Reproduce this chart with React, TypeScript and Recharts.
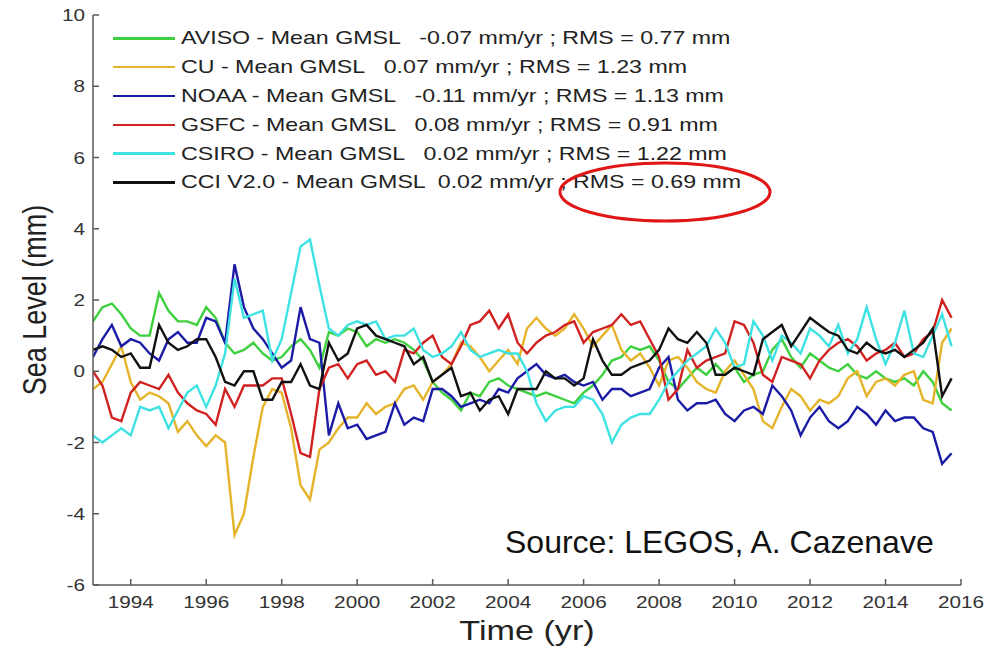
import { LineChart, Line, XAxis, YAxis, Legend } from "recharts";

// time axis (quarterly samples, decimal years)
const years = [
  1993, 1993.25, 1993.5, 1993.75, 1994, 1994.25, 1994.5, 1994.75,
  1995, 1995.25, 1995.5, 1995.75, 1996, 1996.25, 1996.5, 1996.75,
  1997, 1997.25, 1997.5, 1997.75, 1998, 1998.25, 1998.5, 1998.75,
  1999, 1999.25, 1999.5, 1999.75, 2000, 2000.25, 2000.5, 2000.75,
  2001, 2001.25, 2001.5, 2001.75, 2002, 2002.25, 2002.5, 2002.75,
  2003, 2003.25, 2003.5, 2003.75, 2004, 2004.25, 2004.5, 2004.75,
  2005, 2005.25, 2005.5, 2005.75, 2006, 2006.25, 2006.5, 2006.75,
  2007, 2007.25, 2007.5, 2007.75, 2008, 2008.25, 2008.5, 2008.75,
  2009, 2009.25, 2009.5, 2009.75, 2010, 2010.25, 2010.5, 2010.75,
  2011, 2011.25, 2011.5, 2011.75, 2012, 2012.25, 2012.5, 2012.75,
  2013, 2013.25, 2013.5, 2013.75, 2014, 2014.25, 2014.5, 2014.75,
  2015, 2015.25, 2015.5, 2015.75,
];

// sea level anomalies (mm), one value per quarter
const aviso = [
  1.4, 1.8, 1.9, 1.6, 1.2, 1.0, 1.0, 2.2, 1.7, 1.4, 1.4, 1.3, 1.8, 1.5, 0.8, 0.5,
  0.6, 0.8, 0.5, 0.3, 0.4, 0.7, 0.9, 0.6, 0.1, 1.1, 1.0, 1.2, 1.1, 0.7, 0.9, 0.8,
  0.9, 0.8, 0.6, 0.3, -0.3, -0.6, -0.8, -1.1, -0.6, -0.7, -0.3, -0.2, -0.4, -0.5, -0.6, -0.7,
  -0.6, -0.7, -0.8, -0.9, -0.6, -0.4, -0.1, 0.3, 0.4, 0.7, 0.6, 0.7, 0.3, -0.3, -0.5, -0.2,
  0.1, -0.1, 0.2, -0.1, 0.1, -0.3, -0.1, 0.0, 0.6, 0.9, 0.4, 0.1, 0.5, 0.3, 0.1, 0.0,
  0.2, -0.1, -0.2, 0.0, -0.2, -0.3, -0.2, -0.4, 0.0, -0.3, -0.9, -1.1,
];
const cu = [
  -0.5, -0.3, 0.2, 0.7, -0.3, -0.8, -0.6, -0.7, -0.9, -1.7, -1.4, -1.8, -2.1, -1.8, -2.0, -4.6,
  -4.0, -2.4, -1.0, -0.5, -0.6, -1.6, -3.2, -3.6, -2.2, -2.0, -1.6, -1.3, -1.3, -0.9, -1.2, -1.0,
  -0.9, -0.5, -0.4, -0.8, -0.3, -0.1, 0.2, 0.8, 0.7, 0.4, 0.0, 0.3, 0.6, 0.2, 1.2, 1.5,
  1.2, 1.0, 1.2, 1.6, 1.2, 0.7, 1.0, 1.3, 0.6, 0.3, 0.5, 0.1, -0.4, 0.3, 0.4, 0.1,
  -0.3, -0.5, -0.6, 0.0, 0.3, -0.1, -0.5, -1.4, -1.6, -1.0, -0.5, -0.7, -1.1, -0.8, -0.9, -0.7,
  -0.2, 0.0, -0.7, -0.3, -0.2, -0.4, -0.1, 0.0, -0.8, -0.9, 0.8, 1.2,
];
const noaa = [
  0.4, 0.9, 1.3, 0.7, 0.9, 0.8, 0.5, 0.3, 0.9, 1.1, 0.8, 0.8, 1.5, 1.4, 0.8, 3.0,
  1.8, 1.2, 0.9, 0.5, 0.1, 0.3, 1.8, 0.9, 0.8, -1.8, -0.9, -1.6, -1.5, -1.9, -1.8, -1.7,
  -0.9, -1.5, -1.3, -1.4, -0.5, -0.5, -0.7, -1.0, -0.9, -0.8, -0.9, -0.5, -0.6, -0.2, 0.0, 0.2,
  -0.1, -0.2, -0.1, -0.3, -0.4, -0.3, -0.8, -0.5, -0.5, -0.7, -0.6, -0.5, 0.1, 0.4, -0.8, -1.1,
  -0.9, -0.9, -0.8, -1.2, -1.4, -1.1, -1.0, -1.2, -0.4, -0.7, -1.1, -1.8, -1.3, -1.0, -1.4, -1.6,
  -1.4, -1.0, -1.2, -1.5, -1.1, -1.4, -1.3, -1.3, -1.6, -1.7, -2.6, -2.3,
];
const gsfc = [
  0.0, -0.4, -1.3, -1.4, -0.6, -0.3, -0.4, -0.5, -0.1, -0.6, -0.9, -1.1, -1.2, -1.5, -0.5, -1.0,
  -0.4, -0.4, -0.4, -0.2, -0.2, -1.2, -2.3, -2.4, -0.5, 0.1, 0.2, -0.2, 0.2, 0.3, -0.1, 0.0,
  -0.3, 0.6, 0.5, 0.8, 1.0, 0.4, 0.2, 0.7, 1.3, 1.4, 1.7, 1.2, 1.6, 0.8, 0.5, 0.8,
  1.0, 1.1, 1.3, 1.4, 0.8, 1.1, 1.2, 1.3, 1.6, 1.3, 1.4, 0.9, 0.4, -0.8, -0.5, 0.6,
  0.1, 0.3, 0.4, 0.5, 1.4, 1.3, 0.8, -0.1, -0.3, 0.4, 0.3, 0.2, -0.2, 0.3, 0.6, 0.8,
  0.9, 0.7, 0.3, 0.5, 0.6, 0.8, 0.4, 0.5, 0.9, 1.1, 2.0, 1.5,
];
const csiro = [
  -1.8, -2.0, -1.8, -1.6, -1.8, -1.0, -1.1, -1.0, -1.6, -1.1, -0.6, -0.4, -1.0, -0.4, 0.5, 2.6,
  1.5, 1.6, 1.7, 0.3, 0.9, 2.2, 3.5, 3.7, 2.4, 1.2, 1.0, 1.3, 1.4, 1.3, 1.4, 0.9,
  1.0, 1.0, 1.2, 0.6, 0.4, 0.5, 0.7, 1.1, 0.6, 0.4, 0.5, 0.6, 0.5, 0.5, 0.0, -0.9,
  -1.4, -1.1, -1.0, -1.0, -0.7, -0.8, -1.2, -2.0, -1.5, -1.3, -1.2, -1.2, -0.8, -0.3, 0.0, 0.3,
  0.5, 0.7, 1.2, 0.8, 0.1, 0.2, 1.4, 1.0, 0.3, 1.0, 0.8, 0.5, 1.2, 1.0, 0.7, 1.3,
  0.5, 0.9, 1.8, 0.9, 0.2, 0.8, 1.7, 0.5, 0.4, 1.0, 1.6, 0.7,
];
const cci = [
  0.6, 0.7, 0.6, 0.4, 0.5, 0.1, 0.1, 1.3, 0.8, 0.6, 0.7, 0.9, 0.9, 0.4, -0.3, -0.4,
  0.0, 0.0, -0.8, -0.8, -0.3, -0.3, 0.2, -0.4, -0.5, 0.8, 0.3, 0.5, 1.2, 1.3, 1.0, 0.9,
  0.8, 0.7, 0.2, 0.4, -0.3, -0.1, 0.1, -0.7, -0.6, -1.1, -0.8, -0.7, -1.2, -0.5, -0.5, -0.5,
  0.0, -0.2, -0.2, -0.4, -0.2, 0.9, 0.3, -0.1, -0.1, 0.1, 0.2, 0.3, 0.6, 1.2, 0.9, 0.8,
  1.1, 0.8, -0.1, -0.1, 0.1, 0.0, -0.1, 0.9, 1.1, 1.3, 0.7, 1.1, 1.5, 1.3, 1.1, 1.0,
  0.6, 0.5, 0.8, 0.6, 0.5, 0.6, 0.4, 0.6, 0.8, 1.2, -0.7, -0.2,
];

const xTicks = [1994, 1996, 1998, 2000, 2002, 2004, 2006, 2008, 2010, 2012, 2014, 2016];
const yTicks = [-6, -4, -2, 0, 2, 4, 6, 8, 10];

const series = [
  { key: "aviso", name: "AVISO - Mean GMSL   -0.07 mm/yr ; RMS = 0.77 mm", color: "#3fd03f" },
  { key: "cu", name: "CU - Mean GMSL   0.07 mm/yr ; RMS = 1.23 mm", color: "#e6b42a" },
  { key: "noaa", name: "NOAA - Mean GMSL   -0.11 mm/yr ; RMS = 1.13 mm", color: "#1b1ba6" },
  { key: "gsfc", name: "GSFC - Mean GMSL   0.08 mm/yr ; RMS = 0.91 mm", color: "#d12222" },
  { key: "csiro", name: "CSIRO - Mean GMSL   0.02 mm/yr ; RMS = 1.22 mm", color: "#3fe2e2" },
  { key: "cci", name: "CCI V2.0 - Mean GMSL  0.02 mm/yr ; RMS = 0.69 mm", color: "#111111" },
];

const data = years.map((year, i) => ({
  year,
  aviso: aviso[i],
  cu: cu[i],
  noaa: noaa[i],
  gsfc: gsfc[i],
  csiro: csiro[i],
  cci: cci[i],
}));

const FONT = "'Liberation Sans', Arial, Helvetica, sans-serif";
const AXIS = "#5a5a5a";
const STRETCH = 1.22; // the source figure is drawn a little wide

function GmslLegend() {
  return (
    <div style={{ fontFamily: FONT, fontSize: 19, color: "#222" }}>
      {series.map((s) => (
        <div key={s.key} style={{ display: "flex", alignItems: "center", height: 28.8 }}>
          <span style={{ display: "inline-block", width: 62, height: 2.5, background: s.color, marginRight: 6 }} />
          <span
            style={{
              display: "inline-block",
              whiteSpace: "pre",
              transform: `scaleX(${STRETCH})`,
              transformOrigin: "left center",
            }}
          >
            {s.name}
          </span>
        </div>
      ))}
    </div>
  );
}

function XTick(props: any) {
  const { x, y, payload } = props;
  return (
    <text
      transform={`translate(${x} ${y}) scale(${STRETCH} 1)`}
      textAnchor="middle"
      dy="0.71em"
      fontFamily={FONT}
      fontSize={17}
      fill="#333"
    >
      {payload.value}
    </text>
  );
}

function YTick(props: any) {
  const { x, y, payload } = props;
  return (
    <text
      transform={`translate(${x} ${y}) scale(${STRETCH} 1)`}
      textAnchor="end"
      dy="0.36em"
      fontFamily={FONT}
      fontSize={17}
      fill="#333"
    >
      {payload.value}
    </text>
  );
}

function YTitle(props: any) {
  const vb = props.viewBox || { x: 0, y: 15, width: 93, height: 570 };
  const cx = vb.x + 35;
  const cy = vb.y + vb.height / 2;
  return (
    <text
      transform={`translate(${cx} ${cy}) rotate(-90) scale(1 ${STRETCH})`}
      textAnchor="middle"
      dominantBaseline="central"
      fontFamily={FONT}
      fontSize={27}
      fill="#222"
    >
      Sea Level (mm)
    </text>
  );
}

function XTitle(props: any) {
  const vb = props.viewBox || { x: 93, y: 585, width: 868, height: 67 };
  const cx = vb.x + vb.width / 2;
  const cy = vb.y + vb.height - 12;
  return (
    <text
      transform={`translate(${cx} ${cy}) scale(${STRETCH} 1)`}
      textAnchor="middle"
      fontFamily={FONT}
      fontSize={28}
      fill="#222"
    >
      Time (yr)
    </text>
  );
}

const blank = () => "";

export default function App() {
  return (
    <div style={{ position: "absolute", left: 0, top: 0, width: 997, height: 652, background: "#fff" }}>
      <LineChart width={997} height={652} data={data} margin={{ top: 15, right: 36, bottom: 0, left: 0 }}>
        <XAxis
          xAxisId="bottom"
          dataKey="year"
          type="number"
          domain={[1993, 2016]}
          ticks={xTicks}
          allowDataOverflow
          height={67}
          stroke={AXIS}
          strokeWidth={1.5}
          tickSize={-6}
          tickMargin={17}
          tick={<XTick />}
          label={<XTitle />}
        />
        <XAxis
          xAxisId="top"
          dataKey="year"
          type="number"
          orientation="top"
          domain={[1993, 2016]}
          ticks={xTicks}
          height={0}
          stroke={AXIS}
          strokeWidth={1.5}
          tickSize={-6}
          tickFormatter={blank}
        />
        <YAxis
          yAxisId="left"
          type="number"
          domain={[-6, 10]}
          ticks={yTicks}
          width={93}
          stroke={AXIS}
          strokeWidth={1.5}
          tickSize={-6}
          tickMargin={14}
          tick={<YTick />}
          label={<YTitle />}
        />
        <YAxis
          yAxisId="right"
          orientation="right"
          type="number"
          domain={[-6, 10]}
          ticks={yTicks}
          width={0}
          stroke={AXIS}
          strokeWidth={1.5}
          tickSize={-6}
          tickFormatter={blank}
        />
        <Legend
          layout="vertical"
          verticalAlign="middle"
          align="center"
          content={<GmslLegend />}
          wrapperStyle={{ top: 24, left: 113, width: "auto" }}
        />
        {series.map((s) => (
          <Line
            key={s.key}
            xAxisId="bottom"
            yAxisId="left"
            dataKey={s.key}
            name={s.name}
            stroke={s.color}
            strokeWidth={2.4}
            dot={false}
            type="linear"
            isAnimationActive={false}
          />
        ))}
      </LineChart>
      <svg width={997} height={652} style={{ position: "absolute", left: 0, top: 0, pointerEvents: "none" }}>
        <ellipse cx={665} cy={192} rx={105} ry={29} fill="none" stroke="#e01515" strokeWidth={3} />
        <text x={505} y={553} fontFamily={FONT} fontSize={32} fill="#111">
          Source: LEGOS, A. Cazenave
        </text>
      </svg>
    </div>
  );
}
